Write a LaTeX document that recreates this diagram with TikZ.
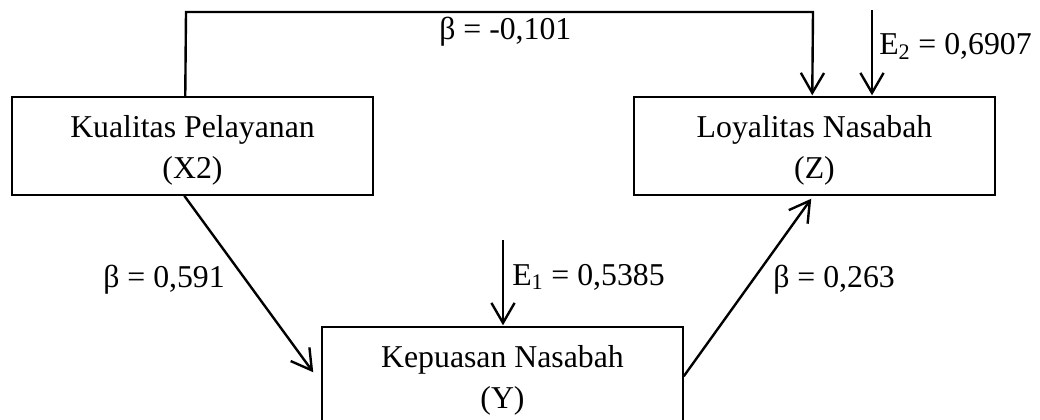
\documentclass[tikz,border=0pt]{standalone}
\usepackage{fontspec}
\setmainfont{Liberation Serif}
\usetikzlibrary{arrows.meta,calc}

\tikzset{
  varbox/.style={draw=black, line width=1pt, minimum width=9.025cm, minimum height=2.45cm, inner sep=0pt},
  boxtext/.style={anchor=north, inner sep=0pt, align=center, font=\fontsize{22.6}{29.2}\selectfont},
  coef/.style={anchor=base west, inner sep=0pt, font=\fontsize{22.6}{29.2}\selectfont},
  path/.style={line width=1.7pt, -{Straight Barb[length=0.5cm, width=0.58cm, line width=1.7pt]}},
}

\begin{document}
\begin{tikzpicture}[x=0.025cm, y=-0.025cm]
  \useasboundingbox (0,0) rectangle (1040,420);

  % variables
  \node[varbox] (x2) at (192.5,146) {};
  \node[varbox] (z)  at (814.5,146) {};
  \node[varbox] (y)  at (502.5,376) {};

  \node[boxtext] (x2t) at ($(x2.north)+(0,18.4)$) {Kualitas Pelayanan\\(X2)};
  \node[boxtext] (zt)  at ($(z.north)+(0,18.4)$)  {Loyalitas Nasabah\\(Z)};
  \node[boxtext] (yt)  at ($(y.north)+(0,18.4)$)  {Kepuasan Nasabah\\(Y)};

  % error terms
  \coordinate (e1) at (503,240);
  \coordinate (e2) at (872,10);
  \draw[path] (e1) -- ($(e1 |- y.north)+(0,-1)$);
  \draw[path] (e2) -- ($(e2 |- z.north)+(0,-1)$);
  \node[coef] (e1l) at (512,285) {E\textsubscript{1} = 0,5385};
  \node[coef] (e2l) at (879,55)  {E\textsubscript{2} = 0,6907};

  % direct path X2 -> Z over the top
  \coordinate (tl) at (186,12);
  \coordinate (tr) at (813,12);
  \draw[path] ($(x2.north west)+(174,0)$) -- (tl) -- (tr) -- ($(z.north west)+(179,-1)$);
  \node[coef] (b3) at (439,40) {β = -0,101};

  % X2 -> Y
  \draw[path] ($(x2.south west)+(173,0)$) -- ($(y.north west)+(-8,46)$);
  \node[coef] (b1) at (103,287) {β = 0,591};

  % Y -> Z
  \draw[path] ($(y.north east)+(0,50)$) -- ($(z.south west)+(178,3)$);
  \node[coef] (b2) at (773,287) {β = 0,263};
\end{tikzpicture}
\end{document}
